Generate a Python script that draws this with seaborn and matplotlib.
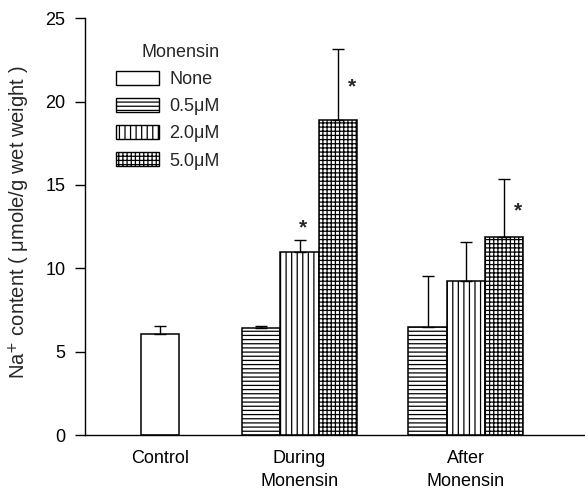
import seaborn as sns
import matplotlib.pyplot as plt
import matplotlib.patches as mpatches
import pandas as pd
import numpy as np

groups = ["Control", "During\nMonensin", "After\nMonensin"]
doses = ["None", "0.5μM", "2.0μM", "5.0μM"]
bar_group = ["Control",
             "During\nMonensin", "During\nMonensin", "During\nMonensin",
             "After\nMonensin", "After\nMonensin", "After\nMonensin"]
bar_dose = ["None", "0.5μM", "2.0μM", "5.0μM", "0.5μM", "2.0μM", "5.0μM"]
na_mean = [6.05, 6.4, 11.0, 18.9, 6.45, 9.25, 11.85]
na_err = [0.5, 0.12, 0.7, 4.25, 3.1, 2.3, 3.5]
significant = [False, False, True, True, False, False, True]

hatches = {"None": "", "0.5μM": "----", "2.0μM": "|||", "5.0μM": "++++"}
# where each group starts on the x axis, in bar widths
group_start = {"Control": 0.0, "During\nMonensin": 2.64, "After\nMonensin": 6.98}

df = pd.DataFrame({"group": bar_group, "dose": bar_dose, "na": na_mean,
                   "err": na_err, "sig": significant})
df["pos"] = df["group"].map(group_start) + df.groupby("group", sort=False).cumcount()

sns.set_theme(style="ticks")
plt.rcParams["font.family"] = ["Liberation Sans", "DejaVu Sans"]
plt.rcParams["hatch.linewidth"] = 0.9

fig = plt.figure(figsize=(5.85, 4.91), dpi=100)
ax = fig.add_axes([85 / 585, 1 - 435 / 491, 500 / 585, (435 - 18.3) / 491])

sns.barplot(data=df, x="pos", y="na", hue="dose", hue_order=doses,
            palette=["white"] * 4, dodge=False, native_scale=True, width=1,
            edgecolor="black", linewidth=1.1, legend=False, errorbar=None, ax=ax)

for bar in ax.patches:
    xc = bar.get_x() + bar.get_width() / 2
    i = int(np.argmin(np.abs(df["pos"].values - xc)))
    bar.set_hatch(hatches[df["dose"].iloc[i]])

ax.errorbar(df["pos"], df["na"], yerr=[np.zeros(len(df)), df["err"]],
            fmt="none", ecolor="black", elinewidth=1, capsize=4, capthick=1)

# significance stars
for _, r in df[df["sig"]].iterrows():
    if r["dose"] == "5.0μM":
        x, y = r["pos"] + 0.37, r["na"] + r["err"] / 2 - 0.15
    else:
        x, y = r["pos"] + 0.1, r["na"] + r["err"] + 0.75
    ax.text(x, y, "*", ha="center", va="center", fontsize=15, fontweight="bold")

ticks = df.groupby("group", sort=False)["pos"].median()
ax.set_xticks(ticks.values)
ax.set_xticklabels(ticks.index)
for lbl in ax.get_xticklabels():
    lbl.set_linespacing(1.45)
ax.set_xlim(-1.96, 11.09)
ax.set_ylim(0, 25)
ax.set_yticks(range(0, 26, 5))
ax.tick_params(axis="x", length=0, pad=11, labelsize=13, colors="black")
ax.tick_params(axis="y", direction="out", length=7, width=1, pad=7, labelsize=13, colors="black")
ax.set_xlabel("")
ax.set_ylabel("Na$^{+}$ content ( μmole/g wet weight )", fontsize=14.5)
ax.yaxis.set_label_coords(-0.105, 0.51)
sns.despine(ax=ax)
for s in ["left", "bottom"]:
    ax.spines[s].set_color("black")
    ax.spines[s].set_linewidth(1)

handles = [mpatches.Patch(facecolor="white", edgecolor="black", hatch=hatches[d],
                          linewidth=1, label=d) for d in doses]
ax.legend(handles=handles, title="Monensin", loc="upper left",
          bbox_to_anchor=(0.062, 0.938), frameon=False, borderpad=0,
          borderaxespad=0, handlelength=2.4, handleheight=0.8,
          handletextpad=0.55, labelspacing=0.55, fontsize=13,
          title_fontsize=13, alignment="right")

fig.savefig("out.png", dpi=100)
